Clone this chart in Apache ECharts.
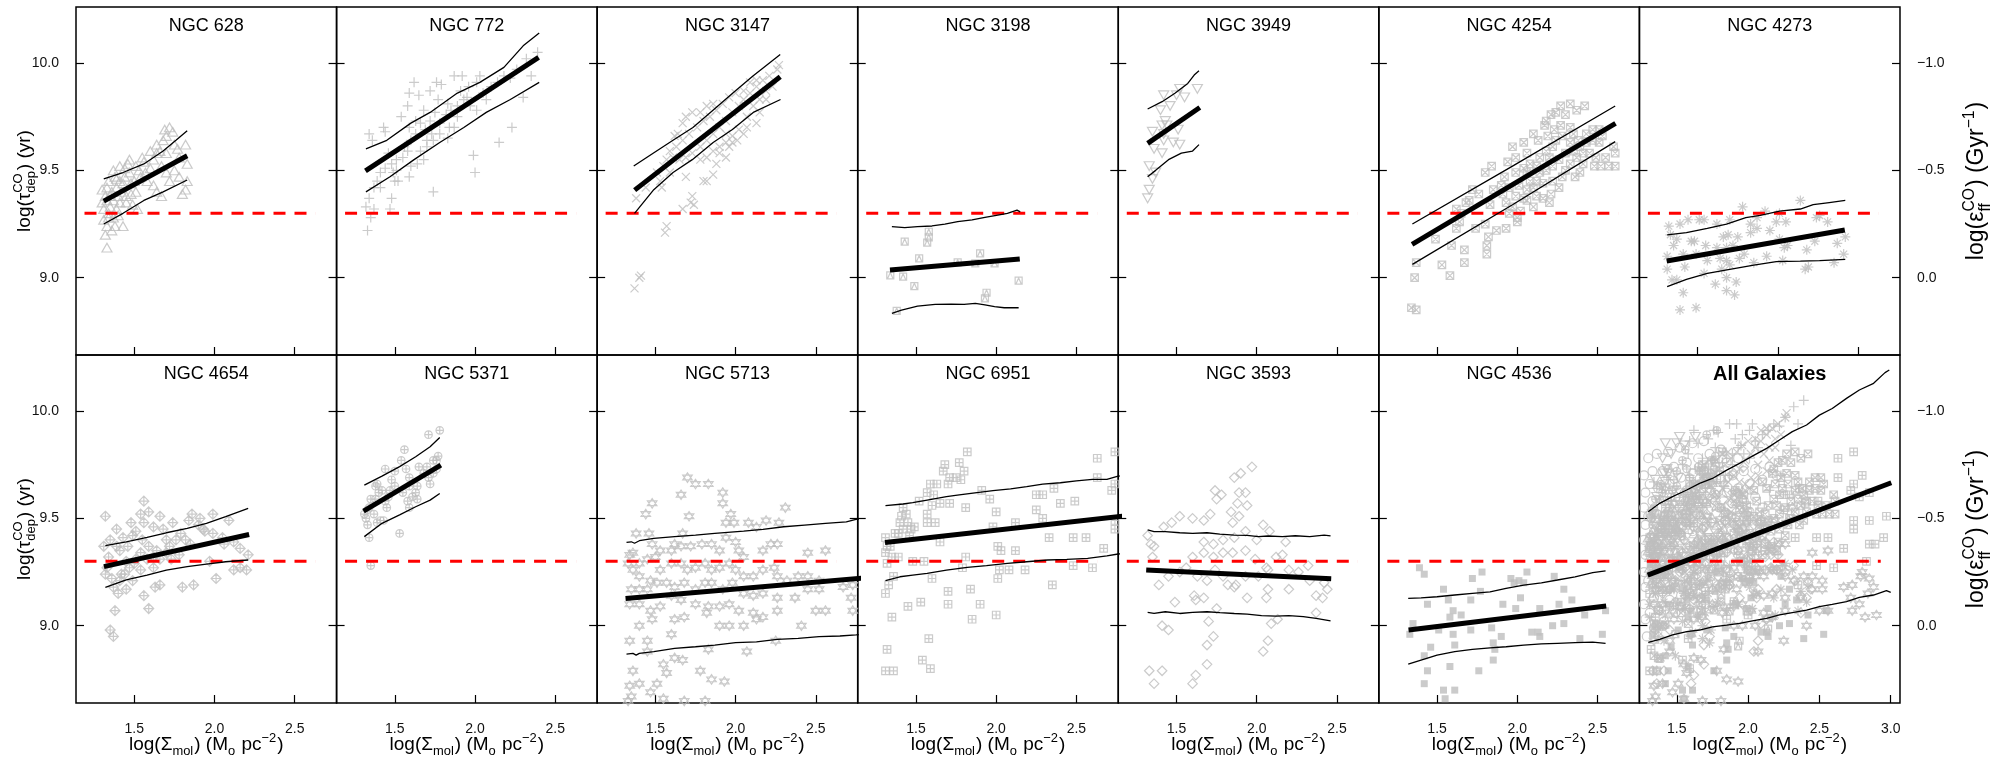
<!DOCTYPE html>
<html><head><meta charset="utf-8">
<script src="https://cdn.jsdelivr.net/npm/echarts@6/dist/echarts.min.js"></script>
<style>html,body{margin:0;padding:0;background:#fff}#c{width:2005px;height:760px}</style>
</head><body><div id="c"></div>
<script>
// ---------------- DATA ----------------
const xTicks = [1.5, 2.0, 2.5];
const xTicksAll = [1.5, 2.0, 2.5, 3.0];
const yTicks = [9.0, 9.5, 10.0];
const effTicks = [-1.0, -0.5, 0.0];
const yRange = [8.64, 10.261];
const effRange = [-1.261, 0.36];
const xRange = [1.137, 2.761];
const xRangeAll = [1.238, 3.065];
const dashY = 9.3;
const dashX = [1.19, 2.63];
const dashXAll = [1.29, 2.93];

const ngc628 = [[1.33,9.14],[1.32,9.20],[1.36,9.22],[1.38,9.24],[1.43,9.24],[1.33,9.24],[1.31,9.27],[1.34,9.28],[1.37,9.28],[1.40,9.29],[1.31,9.32],[1.35,9.33],[1.39,9.32],[1.33,9.36],[1.37,9.36],[1.41,9.35],[1.45,9.35],[1.49,9.34],[1.52,9.32],[1.30,9.41],[1.33,9.42],[1.36,9.40],[1.39,9.42],[1.42,9.40],[1.45,9.38],[1.48,9.39],[1.51,9.40],[1.34,9.45],[1.38,9.47],[1.41,9.45],[1.44,9.47],[1.47,9.49],[1.50,9.45],[1.54,9.47],[1.57,9.49],[1.37,9.50],[1.41,9.52],[1.46,9.53],[1.51,9.52],[1.56,9.54],[1.60,9.51],[1.58,9.45],[1.62,9.43],[1.64,9.40],[1.67,9.38],[1.60,9.59],[1.64,9.58],[1.67,9.52],[1.70,9.49],[1.72,9.45],[1.75,9.50],[1.78,9.47],[1.83,9.45],[1.82,9.41],[1.80,9.39],[1.64,9.62],[1.68,9.64],[1.70,9.66],[1.72,9.70],[1.75,9.62],[1.78,9.56],[1.83,9.53],[1.82,9.62],[1.66,9.59],[1.74,9.68],[1.69,9.69],[1.35,9.38],[1.40,9.38],[1.43,9.44],[1.48,9.44],[1.53,9.50],[1.44,9.51],[1.39,9.46],[1.32,9.38],[1.47,9.55],[1.55,9.56],[1.62,9.55],[1.70,9.58],[1.77,9.60],[1.30,9.35],[1.34,9.30]];
const fit628 = [[1.31,9.357],[1.83,9.568]];
const up628 = [[1.31,9.46],[1.43,9.49],[1.56,9.53],[1.68,9.59],[1.76,9.64],[1.83,9.685]];
const lo628 = [[1.31,9.25],[1.43,9.30],[1.56,9.36],[1.68,9.40],[1.83,9.455]];

const ngc772 = [[1.33,9.22],[1.35,9.28],[1.32,9.33],[1.37,9.32],[1.47,9.32],[1.48,9.37],[1.34,9.37],[1.37,9.42],[1.41,9.42],[1.39,9.45],[1.50,9.45],[1.52,9.45],[1.59,9.47],[1.74,9.40],[2.00,9.49],[1.99,9.57],[2.15,9.63],[2.23,9.70],[2.30,9.84],[2.35,9.94],[2.39,10.05],[2.32,10.02],[1.34,9.67],[1.36,9.64],[1.43,9.70],[1.44,9.68],[1.54,9.75],[1.58,9.80],[1.59,9.86],[1.62,9.91],[1.65,9.85],[1.68,9.78],[1.72,9.87],[1.76,9.91],[1.79,9.90],[1.77,9.83],[1.83,9.81],[1.87,9.94],[1.92,9.94],[2.01,9.91],[2.03,9.94],[1.96,9.89],[1.91,9.87],[1.93,9.83],[1.97,9.80],[2.01,9.78],[2.07,9.83],[2.14,9.91],[2.18,9.94],[2.22,9.93],[2.26,9.97],[1.46,9.58],[1.48,9.53],[1.51,9.55],[1.55,9.56],[1.58,9.59],[1.60,9.64],[1.63,9.67],[1.66,9.72],[1.69,9.69],[1.72,9.73],[1.75,9.77],[1.78,9.72],[1.82,9.76],[1.85,9.78],[1.89,9.75],[1.87,9.70],[1.83,9.65],[1.78,9.67],[1.74,9.64],[1.70,9.61],[1.66,9.59],[1.68,9.55],[1.64,9.53],[1.60,9.52],[1.51,9.50],[1.49,9.49],[1.44,9.51],[1.41,9.49],[1.56,9.61],[1.59,9.70],[1.63,9.73],[1.70,9.64],[1.73,9.67],[1.84,9.70],[1.89,9.80],[1.95,9.84],[2.05,9.86],[2.10,9.89]];
const fit772 = [[1.317,9.498],[2.396,10.026]];
const up772 = [[1.32,9.60],[1.45,9.64],[1.60,9.72],[1.72,9.77],[1.89,9.86],[2.03,9.91],[2.18,9.98],[2.30,10.08],[2.40,10.14]];
const lo772 = [[1.32,9.40],[1.47,9.47],[1.62,9.55],[1.78,9.63],[1.93,9.70],[2.07,9.77],[2.22,9.83],[2.40,9.91]];

const ngc3147 = [[1.37,8.95],[1.41,9.01],[1.40,9.00],[1.56,9.21],[1.57,9.24],[1.38,9.37],[1.44,9.42],[1.53,9.45],[1.54,9.42],[1.67,9.32],[1.72,9.35],[1.74,9.34],[1.73,9.38],[1.69,9.47],[1.80,9.45],[1.82,9.45],[1.86,9.48],[1.88,9.53],[1.90,9.58],[1.94,9.56],[1.96,9.61],[1.98,9.63],[2.01,9.64],[2.05,9.67],[2.07,9.70],[2.13,9.72],[2.15,9.77],[2.19,9.83],[2.23,9.89],[2.26,9.97],[2.27,9.99],[2.21,9.94],[2.17,9.92],[2.13,9.89],[2.09,9.86],[2.05,9.83],[2.02,9.80],[1.98,9.77],[1.94,9.73],[1.90,9.70],[1.86,9.67],[1.82,9.64],[1.78,9.61],[1.73,9.58],[1.69,9.56],[1.65,9.55],[1.61,9.56],[1.59,9.59],[1.63,9.61],[1.67,9.64],[1.71,9.67],[1.76,9.70],[1.80,9.73],[1.84,9.75],[1.88,9.78],[1.92,9.81],[1.96,9.84],[2.00,9.86],[2.05,9.87],[2.09,9.91],[2.13,9.92],[1.69,9.75],[1.73,9.77],[1.78,9.77],[1.82,9.80],[1.86,9.81],[1.67,9.72],[1.64,9.67],[1.62,9.66],[1.94,9.67],[1.98,9.66],[2.02,9.69],[2.07,9.75],[2.11,9.80],[2.15,9.83],[2.19,9.87],[1.94,9.63],[1.90,9.61],[1.86,9.59],[1.82,9.56],[1.78,9.55],[1.57,9.55],[1.55,9.52],[1.59,9.49],[1.51,9.49]];
const fit3147 = [[1.371,9.408],[2.278,9.936]];
const up3147 = [[1.365,9.52],[1.486,9.58],[1.61,9.64],[1.734,9.70],[1.859,9.78],[1.983,9.86],[2.108,9.94],[2.278,10.04]];
const lo3147 = [[1.37,9.30],[1.49,9.41],[1.61,9.49],[1.73,9.55],[1.86,9.63],[1.98,9.69],[2.11,9.77],[2.28,9.83]];

const ngc3198 = [[1.34,9.011],[1.42,9.005],[1.49,8.961],[1.43,9.168],[1.57,9.163],[1.58,9.188],[1.58,9.214],[1.52,9.090],[1.76,9.071],[1.87,9.067],[1.90,9.113],[1.99,9.067],[2.14,8.986],[1.94,8.930],[1.93,8.904],[1.38,8.846]];
const fit3198 = [[1.338,9.036],[2.147,9.087]];
const up3198 = [[1.35,9.238],[1.43,9.233],[1.51,9.238],[1.60,9.241],[1.68,9.250],[1.76,9.261],[1.85,9.269],[1.93,9.281],[2.01,9.292],[2.07,9.300],[2.13,9.315],[2.15,9.307]];
const lo3198 = [[1.35,8.834],[1.41,8.849],[1.51,8.868],[1.62,8.876],[1.72,8.877],[1.80,8.876],[1.87,8.880],[1.93,8.873],[1.99,8.865],[2.05,8.860],[2.14,8.860]];

const ngc3949 = [[1.32,9.37],[1.33,9.41],[1.35,9.46],[1.37,9.49],[1.33,9.52],[1.36,9.60],[1.41,9.58],[1.35,9.68],[1.42,9.64],[1.48,9.63],[1.52,9.62],[1.51,9.69],[1.41,9.71],[1.43,9.73],[1.46,9.80],[1.40,9.78],[1.42,9.85],[1.50,9.85],[1.52,9.88],[1.55,9.84],[1.63,9.88],[1.44,9.71],[1.42,9.67]];
const fit3949 = [[1.32,9.626],[1.645,9.793]];
const up3949 = [[1.32,9.786],[1.41,9.820],[1.49,9.859],[1.57,9.905],[1.61,9.944],[1.64,9.964]];
const lo3949 = [[1.32,9.47],[1.37,9.50],[1.45,9.55],[1.53,9.58],[1.60,9.59],[1.64,9.62]];

const ngc4254 = [[1.34,8.86],[1.37,8.85],[1.36,9.00],[1.37,9.07],[1.53,9.06],[1.58,9.01],[1.67,9.07],[1.67,9.13],[1.59,9.15],[1.49,9.18],[1.62,9.23],[1.64,9.26],[1.62,9.32],[1.65,9.30],[1.68,9.35],[1.70,9.36],[1.72,9.41],[1.76,9.39],[1.74,9.23],[1.80,9.25],[1.81,9.15],[1.81,9.11],[1.82,9.19],[1.87,9.22],[1.93,9.23],[2.00,9.26],[2.00,9.28],[1.83,9.34],[1.85,9.41],[1.80,9.49],[1.84,9.52],[1.90,9.43],[1.92,9.47],[1.94,9.54],[1.97,9.61],[1.99,9.56],[2.04,9.63],[2.06,9.58],[2.10,9.67],[2.13,9.64],[2.17,9.71],[2.18,9.73],[2.21,9.76],[2.24,9.77],[2.27,9.80],[2.33,9.81],[2.37,9.78],[2.42,9.80],[2.30,9.76],[2.33,9.70],[2.35,9.67],[2.38,9.64],[2.43,9.67],[2.47,9.69],[2.51,9.69],[2.53,9.66],[2.55,9.56],[2.60,9.61],[2.61,9.58],[2.61,9.52],[2.57,9.52],[2.52,9.52],[2.48,9.52],[2.41,9.53],[2.39,9.49],[2.36,9.47],[2.30,9.50],[2.26,9.42],[2.21,9.39],[2.20,9.35],[2.16,9.37],[2.12,9.38],[2.10,9.42],[2.08,9.45],[2.06,9.49],[2.04,9.51],[1.99,9.49],[1.95,9.42],[1.91,9.39],[1.93,9.35],[1.97,9.33],[2.02,9.31],[2.06,9.36],[2.12,9.45],[2.14,9.49],[2.18,9.50],[2.22,9.52],[2.26,9.55],[2.30,9.58],[2.35,9.59],[2.39,9.61],[2.43,9.63],[2.47,9.64],[2.51,9.63],[2.22,9.61],[2.18,9.59],[2.14,9.56],[2.20,9.56],[2.24,9.64],[2.28,9.66],[2.33,9.63],[2.37,9.56],[2.41,9.58],[2.45,9.58],[2.49,9.56],[2.12,9.52],[2.08,9.53],[2.16,9.44],[2.22,9.45],[2.28,9.47],[2.33,9.53],[2.27,9.71],[2.23,9.69],[2.19,9.66],[2.01,9.43],[2.06,9.41],[1.99,9.38],[2.10,9.33],[1.95,9.30],[2.04,9.37]];
const fit4254 = [[1.344,9.155],[2.612,9.719]];
const up4254 = [[1.346,9.25],[1.97,9.52],[2.61,9.80]];
const lo4254 = [[1.346,9.062],[1.97,9.34],[2.61,9.634]];

const ngc4273 = [[1.39,8.85],[1.49,8.86],[1.41,8.93],[1.31,9.04],[1.34,8.99],[1.37,8.99],[1.42,9.05],[1.54,9.02],[1.61,8.97],[1.68,8.94],[1.73,8.92],[1.74,8.98],[1.68,9.00],[1.65,9.04],[1.70,9.06],[1.76,9.09],[1.79,9.11],[1.85,9.07],[1.93,9.10],[2.03,9.08],[2.17,9.04],[2.19,9.05],[2.18,9.13],[2.23,9.17],[2.37,9.16],[2.35,9.07],[2.41,9.11],[2.42,9.19],[2.31,9.26],[2.26,9.29],[2.24,9.28],[2.14,9.36],[2.01,9.30],[1.92,9.31],[1.87,9.28],[1.83,9.25],[1.78,9.33],[1.70,9.27],[1.62,9.25],[1.54,9.27],[1.51,9.27],[1.44,9.27],[1.39,9.25],[1.32,9.24],[1.33,9.20],[1.37,9.18],[1.35,9.15],[1.46,9.17],[1.48,9.17],[1.55,9.15],[1.62,9.14],[1.68,9.14],[1.72,9.15],[1.66,9.19],[1.69,9.20],[1.75,9.19],[1.83,9.21],[1.87,9.23],[1.95,9.22],[1.99,9.26],[2.05,9.26],[2.01,9.18],[2.06,9.15],[2.04,9.14],[1.41,9.11],[1.49,9.11],[1.56,9.08],[1.31,9.10],[1.64,9.09],[1.68,9.08]];
const fit4273 = [[1.307,9.078],[2.417,9.222]];
const up4273 = [[1.31,9.20],[1.43,9.21],[1.56,9.23],[1.68,9.25],[1.80,9.28],[1.89,9.29],[2.01,9.31],[2.14,9.32],[2.22,9.34],[2.32,9.35],[2.42,9.36]];
const lo4273 = [[1.31,8.958],[1.43,8.992],[1.56,9.020],[1.70,9.039],[1.85,9.059],[1.99,9.075],[2.14,9.077],[2.26,9.080],[2.42,9.085]];

const ngc4654 = [[1.32,9.51],[1.35,8.98],[1.37,8.95],[1.38,9.07],[1.42,9.24],[1.41,9.35],[1.39,9.37],[1.33,9.27],[1.34,9.32],[1.36,9.22],[1.40,9.15],[1.45,9.17],[1.44,9.24],[1.47,9.27],[1.50,9.29],[1.54,9.34],[1.56,9.14],[1.59,9.08],[1.63,9.18],[1.66,9.19],[1.62,9.27],[1.64,9.35],[1.59,9.37],[1.55,9.40],[1.51,9.44],[1.54,9.52],[1.59,9.53],[1.66,9.51],[1.56,9.58],[1.70,9.40],[1.72,9.37],[1.76,9.40],[1.79,9.43],[1.82,9.40],[1.80,9.18],[1.87,9.19],[1.86,9.52],[1.91,9.50],[1.94,9.44],[1.97,9.30],[1.99,9.52],[2.01,9.22],[2.05,9.41],[2.09,9.49],[2.12,9.26],[2.16,9.27],[2.20,9.26],[2.21,9.33],[2.16,9.36],[2.12,9.39],[2.06,9.38],[1.99,9.43],[1.93,9.45],[1.90,9.47],[1.84,9.49],[1.85,9.38],[1.78,9.33],[1.73,9.31],[1.70,9.34],[1.66,9.31],[1.62,9.32],[1.58,9.31],[1.54,9.26],[1.49,9.21],[1.46,9.37],[1.49,9.42],[1.56,9.48],[1.62,9.46],[1.68,9.45],[1.74,9.48],[1.39,9.45],[1.43,9.41],[1.48,9.48],[1.35,9.40],[1.31,9.37],[1.37,9.18],[1.41,9.21],[1.32,9.24],[1.45,9.30],[1.51,9.31]];
const fit4654 = [[1.311,9.275],[2.216,9.425]];
const up4654 = [[1.32,9.373],[1.45,9.391],[1.58,9.411],[1.70,9.433],[1.83,9.453],[1.95,9.477],[2.07,9.508],[2.21,9.547]];
const lo4654 = [[1.32,9.179],[1.45,9.213],[1.58,9.236],[1.70,9.259],[1.83,9.275],[1.95,9.287],[2.07,9.298],[2.21,9.306]];

const ngc5371 = [[1.35,9.28],[1.34,9.41],[1.53,9.43],[1.31,9.52],[1.32,9.50],[1.33,9.47],[1.33,9.54],[1.34,9.55],[1.37,9.52],[1.39,9.48],[1.41,9.49],[1.43,9.49],[1.35,9.59],[1.38,9.59],[1.40,9.62],[1.42,9.63],[1.39,9.66],[1.38,9.65],[1.44,9.58],[1.46,9.60],[1.44,9.73],[1.48,9.68],[1.50,9.72],[1.54,9.77],[1.56,9.82],[1.57,9.73],[1.55,9.62],[1.58,9.58],[1.59,9.55],[1.61,9.60],[1.63,9.62],[1.64,9.65],[1.59,9.69],[1.65,9.74],[1.70,9.74],[1.71,9.69],[1.72,9.66],[1.74,9.71],[1.76,9.73],[1.77,9.79],[1.76,9.77],[1.74,9.77],[1.71,9.89],[1.78,9.91],[1.68,9.71],[1.59,9.65],[1.50,9.65],[1.47,9.63],[1.45,9.55],[1.64,9.59]];
const fit5371 = [[1.305,9.534],[1.787,9.748]];
const up5371 = [[1.31,9.655],[1.42,9.697],[1.53,9.741],[1.63,9.787],[1.72,9.834],[1.78,9.877]];
const lo5371 = [[1.31,9.415],[1.42,9.477],[1.53,9.516],[1.63,9.554],[1.72,9.585],[1.78,9.616]];

const ngc5713 = [[1.70,9.69],[1.75,9.66],[1.83,9.66],[1.66,9.61],[1.48,9.57],[1.44,9.52],[1.71,9.51],[1.92,9.62],[1.92,9.57],[1.97,9.52],[1.94,9.48],[1.99,9.48],[2.08,9.48],[2.13,9.46],[2.19,9.49],[2.27,9.48],[2.31,9.55],[1.38,9.43],[1.46,9.43],[1.67,9.43],[1.48,9.38],[1.36,9.34],[1.34,9.33],[1.33,9.29],[1.40,9.29],[1.45,9.31],[1.50,9.32],[1.53,9.35],[1.60,9.35],[1.62,9.38],[1.66,9.37],[1.72,9.37],[1.79,9.38],[1.85,9.38],[1.90,9.35],[1.94,9.41],[2.00,9.39],[2.02,9.35],[2.05,9.32],[2.17,9.35],[2.22,9.38],[2.26,9.38],[2.45,9.34],[2.56,9.35],[1.36,9.26],[1.40,9.23],[1.47,9.21],[1.53,9.26],[1.60,9.29],[1.66,9.29],[1.70,9.26],[1.75,9.27],[1.81,9.29],[1.85,9.26],[1.90,9.27],[1.96,9.29],[2.00,9.26],[2.05,9.23],[2.11,9.23],[2.17,9.26],[2.24,9.27],[2.26,9.23],[2.32,9.21],[2.39,9.23],[2.45,9.23],[2.52,9.21],[1.35,9.17],[1.40,9.17],[1.45,9.17],[1.51,9.20],[1.57,9.20],[1.62,9.18],[1.68,9.20],[1.75,9.17],[1.81,9.20],[1.85,9.20],[1.92,9.17],[1.98,9.20],[2.05,9.15],[2.11,9.14],[2.17,9.15],[2.26,9.13],[2.37,9.13],[2.45,9.17],[2.52,9.17],[2.67,9.18],[2.73,9.19],[2.72,9.13],[1.34,9.10],[1.40,9.10],[1.47,9.07],[1.53,9.09],[1.60,9.14],[1.66,9.12],[1.75,9.10],[1.83,9.09],[1.90,9.09],[1.96,9.10],[2.02,9.07],[2.11,9.06],[2.17,9.04],[2.26,9.07],[2.50,9.07],[2.56,9.07],[2.73,9.07],[1.40,9.00],[1.48,9.03],[1.62,9.03],[1.68,9.04],[1.82,9.06],[1.90,9.00],[1.96,9.00],[2.05,9.00],[2.13,9.03],[2.41,9.00],[1.60,8.96],[1.34,8.93],[1.45,8.93],[1.83,8.89],[2.07,8.88],[2.25,8.93],[1.36,8.79],[1.45,8.88],[1.55,8.82],[1.62,8.85],[1.67,8.84],[1.57,8.78],[1.78,8.79],[1.85,8.75],[1.93,8.74],[1.34,8.72],[1.40,8.73],[1.51,8.73],[1.47,8.69],[1.35,8.67],[1.55,8.66],[1.68,8.65],[1.81,8.65],[1.33,8.65],[2.78,9.10],[2.88,9.18],[2.79,9.23],[2.84,9.15],[2.80,9.25],[2.85,9.22],[2.90,9.05],[2.82,9.04]];
const fit5713 = [[1.314,9.127],[2.9,9.229]];
const up5713 = [[1.32,9.388],[1.35,9.391],[1.37,9.384],[1.40,9.396],[1.49,9.407],[1.62,9.415],[1.75,9.422],[1.87,9.430],[2.05,9.441],[2.17,9.449],[2.30,9.461],[2.43,9.469],[2.56,9.477],[2.69,9.484],[2.75,9.495],[2.85,9.505]];
const lo5713 = [[1.32,8.868],[1.36,8.871],[1.38,8.863],[1.40,8.871],[1.49,8.879],[1.62,8.894],[1.75,8.902],[1.87,8.910],[2.00,8.921],[2.13,8.925],[2.26,8.936],[2.39,8.941],[2.52,8.949],[2.65,8.952],[2.75,8.957],[2.85,8.965]];

const ngc6951 = [[1.82,9.81],[1.68,9.75],[1.77,9.76],[1.80,9.72],[1.67,9.72],[1.71,9.69],[1.75,9.69],[1.78,9.68],[1.70,9.66],[1.59,9.66],[1.63,9.66],[1.57,9.62],[1.61,9.61],[1.65,9.57],[1.71,9.57],[1.60,9.56],[1.57,9.52],[1.52,9.58],[1.42,9.55],[1.44,9.52],[1.41,9.51],[1.40,9.48],[1.45,9.48],[1.37,9.43],[1.39,9.43],[1.42,9.45],[1.47,9.45],[1.49,9.46],[1.46,9.42],[1.57,9.48],[1.62,9.48],[1.65,9.39],[1.31,9.41],[1.32,9.37],[1.34,9.37],[1.31,9.34],[1.35,9.32],[1.32,9.29],[1.39,9.32],[1.48,9.30],[1.55,9.30],[1.81,9.32],[1.79,9.27],[1.60,9.22],[1.36,9.23],[1.33,9.19],[1.31,9.15],[1.70,9.16],[1.84,9.17],[1.45,9.09],[1.53,9.11],[1.70,9.10],[1.90,9.10],[1.35,9.04],[1.85,9.03],[2.00,9.05],[1.58,8.94],[1.32,8.89],[1.54,8.84],[1.59,8.80],[1.31,8.79],[1.36,8.79],[2.00,9.53],[1.98,9.46],[2.12,9.48],[2.25,9.54],[2.29,9.50],[2.01,9.37],[2.03,9.35],[2.12,9.35],[1.81,9.55],[1.91,9.63],[1.96,9.59],[2.25,9.61],[2.29,9.61],[2.36,9.64],[2.40,9.57],[2.49,9.58],[2.33,9.41],[2.48,9.41],[2.56,9.41],[2.67,9.36],[2.48,9.28],[2.60,9.27],[2.18,9.26],[2.08,9.26],[2.02,9.26],[2.01,9.22],[2.35,9.19],[2.63,9.78],[2.74,9.81],[2.63,9.69],[2.72,9.63],[2.74,9.66],[2.74,9.49],[2.74,9.45],[2.85,9.49],[2.97,9.51],[2.85,9.62],[2.95,9.41],[2.89,9.38],[2.83,9.30],[2.85,9.38],[2.80,9.70],[2.78,9.60]];
const fit6951 = [[1.307,9.388],[3.0,9.528]];
const up6951 = [[1.31,9.559],[1.42,9.567],[1.48,9.573],[1.57,9.585],[1.69,9.601],[1.77,9.609],[1.88,9.620],[1.98,9.629],[2.09,9.637],[2.19,9.648],[2.29,9.660],[2.40,9.666],[2.50,9.675],[2.60,9.682],[2.69,9.682],[2.76,9.697],[2.9,9.71]];
const lo6951 = [[1.31,9.210],[1.40,9.228],[1.48,9.236],[1.57,9.244],[1.69,9.259],[1.82,9.272],[1.94,9.280],[2.07,9.290],[2.19,9.298],[2.32,9.306],[2.44,9.309],[2.57,9.314],[2.69,9.325],[2.76,9.334],[2.9,9.345]];

const ngc3593 = [[1.97,9.74],[1.90,9.71],[1.86,9.69],[1.74,9.63],[1.78,9.61],[1.89,9.62],[1.93,9.62],[1.75,9.59],[1.88,9.57],[1.94,9.56],[1.84,9.53],[1.89,9.51],[1.71,9.52],[1.67,9.49],[1.60,9.50],[1.52,9.51],[1.47,9.48],[1.42,9.46],[2.04,9.47],[1.85,9.48],[1.32,9.42],[1.34,9.38],[1.36,9.37],[1.35,9.32],[1.67,9.39],[1.73,9.38],[1.79,9.40],[1.86,9.41],[1.93,9.44],[2.00,9.40],[2.08,9.44],[2.18,9.39],[2.16,9.33],[2.12,9.32],[2.06,9.27],[1.99,9.31],[1.93,9.35],[1.85,9.34],[1.79,9.34],[1.73,9.32],[1.67,9.34],[1.60,9.32],[1.56,9.27],[1.52,9.25],[1.39,9.19],[1.45,9.23],[1.63,9.23],[1.69,9.21],[1.74,9.26],[1.79,9.23],[1.86,9.18],[1.93,9.23],[2.01,9.23],[2.07,9.26],[2.20,9.26],[2.26,9.25],[2.32,9.28],[2.33,9.21],[2.42,9.20],[2.44,9.17],[2.37,9.14],[2.20,9.17],[2.07,9.17],[2.06,9.13],[1.94,9.13],[1.82,9.19],[1.87,9.19],[1.75,9.08],[1.67,9.13],[1.62,9.12],[1.61,9.14],[1.49,9.11],[1.70,9.02],[1.41,9.00],[1.45,8.98],[1.73,8.95],[1.69,8.91],[2.09,9.01],[2.13,9.03],[2.07,8.93],[2.04,8.88],[1.33,8.79],[1.36,8.73],[1.41,8.79],[1.62,8.77],[1.60,8.73],[1.69,8.82],[2.37,9.06],[2.41,9.13]];
const fit3593 = [[1.311,9.259],[2.464,9.219]];
const up3593 = [[1.32,9.446],[1.36,9.438],[1.43,9.438],[1.52,9.433],[1.60,9.430],[1.69,9.433],[1.77,9.427],[1.86,9.422],[1.94,9.421],[2.01,9.415],[2.07,9.418],[2.16,9.415],[2.24,9.419],[2.33,9.415],[2.42,9.422],[2.46,9.418]];
const lo3593 = [[1.32,9.062],[1.36,9.057],[1.43,9.065],[1.52,9.057],[1.60,9.062],[1.69,9.065],[1.77,9.061],[1.86,9.057],[1.94,9.054],[2.03,9.047],[2.12,9.045],[2.20,9.047],[2.29,9.042],[2.37,9.034],[2.46,9.023]];

const ngc4536 = [[1.39,9.27],[1.42,9.24],[1.54,9.17],[1.44,9.10],[1.51,8.98],[1.57,9.12],[1.60,9.07],[1.58,9.04],[1.65,9.05],[1.60,8.96],[1.61,8.91],[1.46,8.90],[1.42,8.86],[1.58,8.81],[1.44,8.79],[1.42,8.73],[1.54,8.70],[1.61,8.70],[1.55,8.66],[1.71,8.98],[1.71,9.12],[1.72,9.22],[1.78,9.25],[1.77,9.16],[1.84,8.99],[1.85,8.92],[1.86,8.89],[1.85,8.84],[1.90,8.95],[1.91,9.10],[1.96,9.22],[1.98,9.20],[2.01,9.21],[2.04,9.20],[2.02,9.13],[1.99,9.08],[2.06,9.25],[2.14,9.08],[2.14,8.95],[2.09,8.97],[2.13,8.97],[2.22,9.00],[2.23,9.23],[2.29,9.17],[2.26,9.10],[2.29,9.01],[2.34,9.12],[2.39,8.94],[2.42,9.05],[2.53,8.96],[2.55,9.07],[1.76,8.79],[1.35,9.01],[1.33,8.96]];
const fit4536 = [[1.322,8.980],[2.554,9.092]];
const up4536 = [[1.32,9.127],[1.40,9.130],[1.50,9.135],[1.61,9.143],[1.72,9.151],[1.83,9.158],[1.93,9.174],[2.04,9.189],[2.15,9.200],[2.25,9.213],[2.36,9.228],[2.47,9.247],[2.55,9.255]];
const lo4536 = [[1.32,8.821],[1.40,8.840],[1.50,8.863],[1.61,8.879],[1.72,8.890],[1.83,8.897],[1.93,8.902],[2.04,8.910],[2.15,8.915],[2.25,8.918],[2.36,8.921],[2.47,8.924],[2.55,8.918]];

// points seen only in the "All Galaxies" panel (remaining sample)
const otherGalaxies = [[1.27,9.70],[1.27,9.55],[1.27,9.40],[1.27,9.25],[1.27,9.10],[1.28,9.62],[1.28,9.47],[1.28,9.33],[1.28,9.18],[1.28,9.03],[1.29,8.95],[1.30,9.78],[1.31,9.66],[1.30,9.51],[1.31,9.36],[1.30,9.21],[1.31,9.06],[1.33,9.72],[1.33,9.58],[1.34,9.44],[1.33,9.29],[1.34,9.13],[1.34,8.99],[1.36,9.80],[1.37,9.64],[1.36,9.52],[1.37,9.38],[1.36,9.24],[1.37,9.08],[1.40,9.72],[1.41,9.58],[1.40,9.46],[1.41,9.31],[1.40,9.16],[1.41,9.02],[1.44,9.81],[1.45,9.66],[1.44,9.53],[1.45,9.40],[1.44,9.26],[1.45,9.12],[1.48,9.74],[1.49,9.60],[1.48,9.47],[1.49,9.34],[1.48,9.20],[1.49,9.06],[1.52,9.83],[1.53,9.69],[1.52,9.55],[1.53,9.42],[1.52,9.28],[1.53,9.14],[1.57,9.76],[1.57,9.63],[1.56,9.50],[1.57,9.36],[1.56,9.22],[1.57,9.08],[1.61,9.85],[1.61,9.71],[1.60,9.57],[1.61,9.44],[1.60,9.30],[1.61,9.16],[1.65,9.78],[1.65,9.65],[1.64,9.52],[1.65,9.38],[1.64,9.24],[1.69,9.86],[1.69,9.72],[1.68,9.59],[1.69,9.46],[1.68,9.32],[1.69,9.18],[1.73,9.80],[1.73,9.67],[1.72,9.54],[1.73,9.40],[1.72,9.26],[1.77,9.74],[1.77,9.61],[1.76,9.48],[1.77,9.34],[1.81,9.82],[1.81,9.68],[1.80,9.55],[1.81,9.42],[1.80,9.28],[1.85,9.76],[1.85,9.62],[1.84,9.49],[1.85,9.36],[1.89,9.70],[1.89,9.57],[1.88,9.44],[1.93,9.78],[1.93,9.64],[1.92,9.51],[1.97,9.72],[1.97,9.58],[1.96,9.45],[2.01,9.66],[2.01,9.53],[2.05,9.73],[2.05,9.60],[2.10,9.68],[2.10,9.55],[2.15,9.74],[2.20,9.70]];

const fitAll = [[1.296,9.236],[3.004,9.666]];
const upAll = [[1.30,9.531],[1.38,9.570],[1.47,9.601],[1.57,9.632],[1.66,9.663],[1.75,9.686],[1.85,9.725],[1.94,9.756],[2.03,9.790],[2.13,9.826],[2.22,9.865],[2.31,9.904],[2.41,9.935],[2.50,9.981],[2.59,10.012],[2.69,10.059],[2.78,10.098],[2.88,10.129],[2.96,10.179],[2.99,10.191]];
const loAll = [[1.30,8.922],[1.38,8.936],[1.47,8.957],[1.57,8.972],[1.66,8.980],[1.75,8.995],[1.85,9.003],[1.94,9.011],[2.03,9.023],[2.13,9.034],[2.22,9.050],[2.31,9.061],[2.41,9.073],[2.50,9.089],[2.59,9.099],[2.69,9.112],[2.78,9.132],[2.88,9.143],[2.97,9.163],[3.00,9.155]];

const galaxyNames = ['NGC 628','NGC 772','NGC 3147','NGC 3198','NGC 3949','NGC 4254','NGC 4273','NGC 4654','NGC 5371','NGC 5713','NGC 6951','NGC 3593','NGC 4536'];
const allTitle = 'All Galaxies';

// ---------------- STYLE / BUILD ----------------
const GRAY = '#bebebe';
const FF = '"Liberation Sans", Arial, Helvetica, sans-serif';
const SYM = {
  triUp:   {symbol:'path://M5,0L10,8.66L0,8.66Z', size:[10,8.7]},
  plus:    {symbol:'path://M5,0L5,10M0,5L10,5', size:10},
  cross:   {symbol:'path://M0,0L10,10M10,0L0,10', size:8},
  sqTri:   {symbol:'path://M0,0L10,0L10,10L0,10ZM1,10L5,1L9,10', size:7},
  triDown: {symbol:'path://M0,0L10,0L5,8.66Z', size:[10,8.7]},
  sqX:     {symbol:'path://M0,0L10,0L10,10L0,10ZM0,0L10,10M10,0L0,10', size:7.5},
  aster:   {symbol:'path://M5,0L5,10M0,5L10,5M1.5,1.5L8.5,8.5M8.5,1.5L1.5,8.5', size:10},
  diaPlus: {symbol:'path://M5,0L10,5L5,10L0,5ZM5,0L5,10M0,5L10,5', size:10},
  cirPlus: {symbol:'path://M10,5A5,5 0 1,1 0,5A5,5 0 1,1 10,5ZM5,0L5,10M0,5L10,5', size:7.5},
  star:    {symbol:'path://M5,0L9.33,7.5L0.67,7.5ZM5,10L9.33,2.5L0.67,2.5Z', size:9.5},
  sqPlus:  {symbol:'path://M0,0L10,0L10,10L0,10ZM5,0L5,10M0,5L10,5', size:7.5},
  diamond: {symbol:'path://M5,0L10,5L5,10L0,5Z', size:9.5},
  fsq:     {symbol:'rect', size:7, fill:true},
  circle:  {symbol:'path://M10,5A5,5 0 1,1 0,5A5,5 0 1,1 10,5Z', size:9}
};

const panels = [
  {pts:ngc628, fit:fit628, up:up628, lo:lo628, sym:'triUp'},
  {pts:ngc772, fit:fit772, up:up772, lo:lo772, sym:'plus'},
  {pts:ngc3147, fit:fit3147, up:up3147, lo:lo3147, sym:'cross'},
  {pts:ngc3198, fit:fit3198, up:up3198, lo:lo3198, sym:'sqTri'},
  {pts:ngc3949, fit:fit3949, up:up3949, lo:lo3949, sym:'triDown'},
  {pts:ngc4254, fit:fit4254, up:up4254, lo:lo4254, sym:'sqX'},
  {pts:ngc4273, fit:fit4273, up:up4273, lo:lo4273, sym:'aster'},
  {pts:ngc4654, fit:fit4654, up:up4654, lo:lo4654, sym:'diaPlus'},
  {pts:ngc5371, fit:fit5371, up:up5371, lo:lo5371, sym:'cirPlus'},
  {pts:ngc5713, fit:fit5713, up:up5713, lo:lo5713, sym:'star'},
  {pts:ngc6951, fit:fit6951, up:up6951, lo:lo6951, sym:'sqPlus'},
  {pts:ngc3593, fit:fit3593, up:up3593, lo:lo3593, sym:'diamond'},
  {pts:ngc4536, fit:fit4536, up:up4536, lo:lo4536, sym:'fsq'}
];

const L0 = 76, PW = 260.57, T0 = 7, T1 = 355, PH = 348;
const grids = [], xAxes = [], yAxes = [], series = [], graphics = [];
const f1 = v => v.toFixed(1);
const fEff = v => (v < -1e-9 ? '\u2212' : '') + Math.abs(v).toFixed(1);
const tickStyle = {color:'#000', width:1.2};

function scatter(pts, key, gi) {
  const s = SYM[key];
  return {type:'scatter', xAxisIndex:gi, yAxisIndex:2*gi, data:pts, symbol:s.symbol, symbolSize:s.size,
    itemStyle: s.fill ? {color:GRAY, borderWidth:0} : {color:'rgba(0,0,0,0)', borderColor:GRAY, borderWidth:1.2},
    silent:true, z:2, clip:true, animation:false};
}
function line(data, gi, width, color, type, z) {
  return {type:'line', xAxisIndex:gi, yAxisIndex:2*gi, data, symbol:'none', silent:true, clip:true, z,
    lineStyle:{width, color, type: type || 'solid'}, animation:false};
}

for (let i = 0; i < 14; i++) {
  const r = Math.floor(i / 7), c = i % 7;
  const left = L0 + c * PW, top = r ? T1 : T0;
  const isAll = i === 13;
  grids.push({left, top, width:PW, height:PH, show:true, borderColor:'#000', borderWidth:1.5,
    backgroundColor:'transparent', containLabel:false, outerBoundsMode:'none'});
  const xt = isAll ? xTicksAll : xTicks;
  const xr = isAll ? xRangeAll : xRange;
  xAxes.push({gridIndex:i, type:'value', min:xr[0], max:xr[1], position:'bottom',
    axisLine:{show:false, onZero:false}, splitLine:{show:false},
    axisTick:{show:true, inside:true, length:8, lineStyle:tickStyle, customValues:xt},
    axisLabel:{show: r === 1, customValues:xt, margin:19, fontSize:14, color:'#111', fontFamily:FF, formatter:f1}});
  yAxes.push({gridIndex:i, type:'value', min:yRange[0], max:yRange[1], position:'left',
    axisLine:{show:false, onZero:false}, splitLine:{show:false},
    axisTick:{show:true, inside:true, length:8, lineStyle:tickStyle, customValues:yTicks},
    axisLabel:{show: c === 0, customValues:yTicks, margin:17, fontSize:14, color:'#111', fontFamily:FF, formatter:f1}});
  if (c === 6) {
    yAxes.push({gridIndex:i, type:'value', min:effRange[0], max:effRange[1], inverse:true, position:'right',
      axisLine:{show:false, onZero:false}, splitLine:{show:false},
      axisTick:{show:true, inside:true, length:8, lineStyle:tickStyle, customValues:effTicks},
      axisLabel:{show:true, customValues:effTicks, margin:17, fontSize:14, color:'#111', fontFamily:FF, formatter:fEff}});
  } else {
    yAxes.push({gridIndex:i, type:'value', min:yRange[0], max:yRange[1], position:'right',
      axisLine:{show:false, onZero:false}, splitLine:{show:false},
      axisTick:{show:true, inside:true, length:8, lineStyle:tickStyle, customValues:yTicks},
      axisLabel:{show:false}});
  }
  graphics.push({type:'text', x:left + PW/2, y:top + 19.5, z:100,
    style:{text: isAll ? allTitle : galaxyNames[i], fontSize: isAll ? 20 : 18, fontWeight: isAll ? 'bold' : 'normal',
      fontFamily:FF, fill:'#000', align:'center', verticalAlign:'middle'}});

  if (!isAll) {
    const p = panels[i];
    series.push(scatter(p.pts, p.sym, i));
  } else {
    series.push(scatter(otherGalaxies, 'circle', i));
    panels.forEach(p => series.push(scatter(p.pts, p.sym, i)));
  }
  const dx = isAll ? dashXAll : dashX;
  series.push(line([[dx[0], dashY], [dx[1], dashY]], i, 3, '#ff0000', [12, 9], 4));
  const fitSet = isAll ? {fit:fitAll, up:upAll, lo:loAll} : panels[i];
  series.push(line(fitSet.up, i, 1.3, '#000', 'solid', 5));
  series.push(line(fitSet.lo, i, 1.3, '#000', 'solid', 5));
  series.push(line(fitSet.fit, i, 5, '#000', 'solid', 6));
}

// ---------- math-style axis titles ----------
const mctx = document.createElement('canvas').getContext('2d');
function tw(t, s) { mctx.font = s + 'px "Liberation Sans"'; return mctx.measureText(t).width; }
function mathLabel(parts, S, gx, gy, rot) {
  const s = S * 0.68, k = 0.3465;
  const kids = []; let x = 0;
  const add = (t, size, base) => kids.push({type:'text', x:x, y:base - k * size,
    style:{text:t, fontSize:size, fontFamily:FF, fill:'#000', align:'left', verticalAlign:'middle'}});
  parts.forEach(p => {
    if (p.t !== undefined) { add(p.t, S, 0); x += tw(p.t, S); }
    else if (p.sup !== undefined && p.sub !== undefined) {
      add(p.sup, s, -0.45 * S); add(p.sub, s, 0.28 * S);
      x += Math.max(tw(p.sup, s), tw(p.sub, s)) + 1;
    } else if (p.sup !== undefined) { add(p.sup, s, -0.45 * S); x += tw(p.sup, s) + 1; }
    else { add(p.sub, s, 0.28 * S); x += tw(p.sub, s) + 1; }
  });
  kids.forEach(kd => { kd.x -= x / 2; });
  return {type:'group', x:gx, y:gy, rotation:rot || 0, children:kids, z:100};
}
const yTitleL = [{t:'log('}, {t:'\u03c4'}, {sup:'CO', sub:'dep'}, {t:') (yr)'}];
const yTitleR = [{t:'log('}, {t:'\u03b5'}, {sup:'CO', sub:'ff'}, {t:') (Gyr'}, {sup:'\u22121'}, {t:')'}];
const xTitle = [{t:'log('}, {t:'\u03a3'}, {sub:'mol'}, {t:') (M'}, {sub:'o'}, {t:' pc'}, {sup:'\u22122'}, {t:')'}];
[T0, T1].forEach(top => {
  graphics.push(mathLabel(yTitleL, 19, 31, top + PH/2, Math.PI/2));
  graphics.push(mathLabel(yTitleR, 23, 1985, top + PH/2, Math.PI/2));
});
for (let c = 0; c < 7; c++) graphics.push(mathLabel(xTitle, 19, L0 + c * PW + PW/2, 751, 0));

const chart = echarts.init(document.getElementById('c'), null, {renderer:'canvas'});
chart.setOption({
  animation:false,
  backgroundColor:'#fff',
  grid:grids, xAxis:xAxes, yAxis:yAxes, series:series,
  graphic:{elements:graphics}
});
</script>
</body></html>
